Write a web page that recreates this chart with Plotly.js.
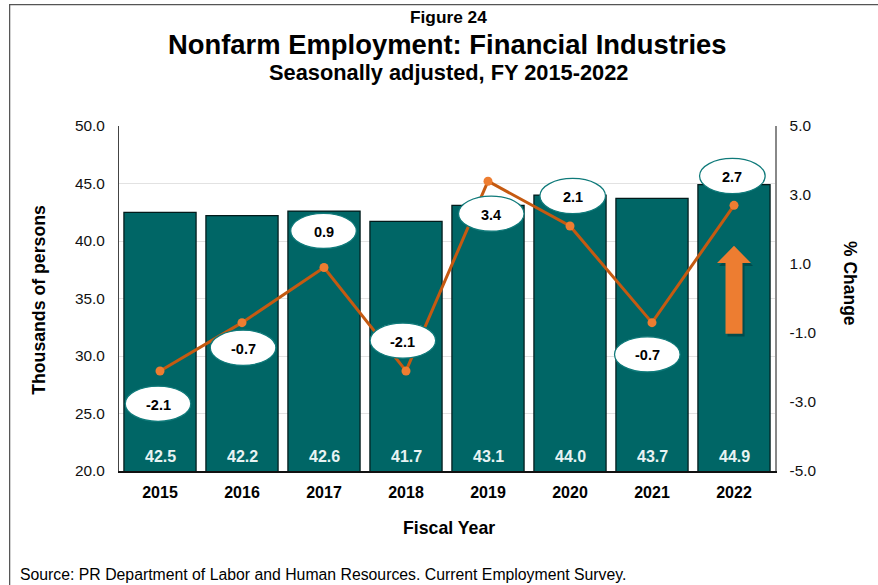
<!DOCTYPE html>
<html><head><meta charset="utf-8">
<script src="https://cdn.plot.ly/plotly-3.0.1.min.js"></script>
<style>html,body{margin:0;padding:0;background:#fff}#c{width:878px;height:585px}</style>
</head><body><div id="c"></div>
<script>
const years = ['2015','2016','2017','2018','2019','2020','2021','2022'];
const employment = [42.5,42.2,42.6,41.7,43.1,44.0,43.7,44.9];
const pctChange = [-2.1,-0.7,0.9,-2.1,3.4,2.1,-0.7,2.7];
const calloutY = [-3.05,-1.43,1.96,-1.22,2.46,2.97,-1.62,3.55];
const calloutXShift = [-0.024,0.013,-0.006,-0.038,0.04,0.033,-0.057,-0.02];
const FONT = 'Liberation Sans, Arial, sans-serif';
const TEAL = '#006666', ORANGE = '#c55a11', MARK = '#ed7d31', RING = '#0f7a7a';

const shapes = [];
const annotations = [];
// frame (open to the right and bottom, running off the page)
shapes.push({type:'rect',xref:'paper',yref:'paper',layer:'below',x0:-0.1667,x1:1.5,y0:-0.5,y1:1.3517,fillcolor:'rgba(0,0,0,0)',line:{color:'#555',width:1.25}});
pctChange.forEach((v,i)=>{
  const cx = i + calloutXShift[i], hw = 0.4, hh = 0.51;
  shapes.push({type:'circle',xref:'x',yref:'y2',layer:'above',
    x0:cx-hw,x1:cx+hw,y0:calloutY[i]-hh,y1:calloutY[i]+hh,
    fillcolor:'#ffffff',line:{color:RING,width:1.25}});
  annotations.push({xref:'x',yref:'y2',x:cx,y:calloutY[i],yshift:-1,text:'<b>'+v.toFixed(1)+'</b>',showarrow:false,
    xanchor:'center',yanchor:'middle',font:{family:FONT,size:14.5,color:'#000'}});
});
employment.forEach((v,i)=>{
  annotations.push({xref:'x',yref:'y',x:i,y:20,yanchor:'middle',xanchor:'center',yshift:15,text:'<b>'+v.toFixed(1)+'</b>',showarrow:false,
    font:{family:FONT,size:16,color:'#e8f3f3'}});
});
// arrow + soft shadow
const arrowPath=(cx,dy)=>`M ${cx-0.1035} ${31.94+dy} L ${cx+0.1035} ${31.94+dy} L ${cx+0.1035} ${38.08+dy} L ${cx+0.207} ${38.08+dy} L ${cx} ${39.58+dy} L ${cx-0.207} ${38.08+dy} L ${cx-0.1035} ${38.08+dy} Z`;
shapes.push({type:'path',xref:'x',yref:'y',layer:'above',path:arrowPath(7.025,-0.25),fillcolor:'rgba(0,30,30,0.35)',line:{width:0}});
shapes.push({type:'path',xref:'x',yref:'y',layer:'above',path:arrowPath(7,0),fillcolor:MARK,line:{width:0}});
const txt=(x,y,t,size,extra)=>Object.assign({xref:'paper',yref:'paper',x,y,text:t,showarrow:false,xanchor:'center',yanchor:'middle',font:{family:FONT,size,color:'#000'}},extra||{});
annotations.push(
  txt(0.5023,1.3155,'<b>Figure 24</b>',17.3),
  txt(0.5,1.2373,'<b>Nonfarm Employment: Financial Industries</b>',27.4),
  txt(0.5023,1.1563,'<b>Seasonally adjusted, FY 2015-2022</b>',21.8),
  txt(0.5023,-0.1664,'<b>Fiscal Year</b>',17.7),
  txt(-0.1537,-0.2996,'Source: PR Department of Labor and Human Resources. Current Employment Survey.',15.8,{xanchor:'left'}),
  txt(-0.1218,0.4964,'<b>Thousands of persons</b>',17.7,{textangle:-90}),
  txt(1.114,0.5427,'<b>% Change</b>',17.5,{textangle:90})
);

Plotly.newPlot('c',[
 {type:'bar',x:years.map((_,i)=>i),y:employment,base:0,marker:{color:TEAL,line:{color:'#021a1a',width:1.25}},hoverinfo:'skip',showlegend:false},
 {type:'scatter',mode:'lines+markers',x:years.map((_,i)=>i),y:pctChange,yaxis:'y2',line:{color:ORANGE,width:3},marker:{color:MARK,size:9},showlegend:false,hoverinfo:'skip'}
],{
 width:878,height:585,paper_bgcolor:'#fff',plot_bgcolor:'#fff',showlegend:false,bargap:0.12,
 margin:{l:119,r:102.5,t:126,b:113.5},
 font:{family:FONT,color:'#000'},
 xaxis:{range:[-0.5,7.5],tickvals:years.map((_,i)=>i),ticktext:years.map(y=>'<b>'+y+'</b>'),ticks:'',showgrid:false,zeroline:false,showline:true,linecolor:'#111',linewidth:1.5,tickfont:{family:FONT,size:16,color:'#000'},ticklabelstandoff:6},
 yaxis:{range:[20,50],tickvals:[20,25,30,35,40,45,50],ticktext:['20.0','25.0','30.0','35.0','40.0','45.0','50.0'],showgrid:true,gridcolor:'#e2e2e2',gridwidth:1,zeroline:false,showline:true,linecolor:'#444',linewidth:1,ticks:'',tickfont:{family:FONT,size:15.4,color:'#111'},ticklabelstandoff:10},
 yaxis2:{overlaying:'y',side:'right',range:[-5,5],tickvals:[-5,-3,-1,1,3,5],ticktext:['-5.0','-3.0','-1.0','1.0','3.0','5.0'],showgrid:false,zeroline:false,showline:true,linecolor:'#888',linewidth:1.5,ticks:'',tickfont:{family:FONT,size:15.4,color:'#111'},ticklabelstandoff:10},
 shapes,annotations
},{staticPlot:true,displayModeBar:false});
</script></body></html>
